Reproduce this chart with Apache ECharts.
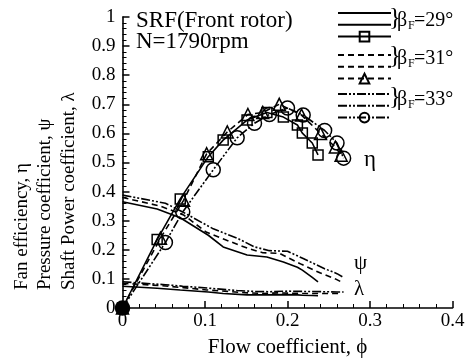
<!DOCTYPE html>
<html><head><meta charset="utf-8">
<script src="https://cdn.jsdelivr.net/npm/echarts@6/dist/echarts.min.js"></script>
<style>html,body{margin:0;padding:0;background:#fff}#c{width:471px;height:359px}</style>
</head><body><div id="c"></div>
<script>
// ---- data ----
const phi29 = [0, 0.042, 0.07, 0.104, 0.122, 0.151, 0.175, 0.195, 0.212, 0.218, 0.23, 0.237];
const eta29 = [0, 0.235, 0.375, 0.52, 0.577, 0.646, 0.672, 0.656, 0.629, 0.601, 0.567, 0.526];
const psi29 = [0.365, 0.34, 0.31, 0.25, 0.21, 0.182, 0.175, 0.158, 0.14, 0.13, 0.105, 0.09];
const lam29 = [0.075, 0.068, 0.062, 0.055, 0.05, 0.045, 0.045, 0.046, 0.045, 0.044, 0.043, 0.042];

const phi31 = [0, 0.046, 0.074, 0.102, 0.127, 0.152, 0.17, 0.19, 0.217, 0.24, 0.258, 0.265];
const eta31 = [0, 0.24, 0.37, 0.53, 0.605, 0.665, 0.672, 0.70, 0.663, 0.60, 0.553, 0.525];
const psi31 = [0.38, 0.35, 0.32, 0.26, 0.232, 0.205, 0.19, 0.188, 0.15, 0.12, 0.1, 0.09];
const lam31 = [0.085, 0.077, 0.07, 0.062, 0.057, 0.052, 0.05, 0.052, 0.05, 0.05, 0.05, 0.05];

const phi33 = [0, 0.052, 0.073, 0.11, 0.139, 0.16, 0.178, 0.2, 0.219, 0.245, 0.26, 0.268];
const eta33 = [0, 0.225, 0.33, 0.475, 0.585, 0.635, 0.665, 0.687, 0.663, 0.61, 0.567, 0.515];
const psi33 = [0.388, 0.36, 0.33, 0.272, 0.24, 0.21, 0.197, 0.195, 0.17, 0.135, 0.118, 0.105];
const lam33 = [0.09, 0.08, 0.075, 0.067, 0.06, 0.057, 0.056, 0.058, 0.057, 0.056, 0.055, 0.055];

const xTicks = ['0', '0.1', '0.2', '0.3', '0.4'];
const yTicks = ['0', '0.1', '0.2', '0.3', '0.4', '0.5', '0.6', '0.7', '0.8', '0.9', '1'];

// ---- build ----
const FONT = '"Liberation Serif", "DejaVu Serif", serif';
const dashes = { solid: 'solid', dashed: [6, 4], dotdash: [9, 2, 2, 2, 2, 2] };
function mk(name, xs, ys, dash, symbol, size, fillOrigin) {
  const data = xs.map((x, i) => (fillOrigin && i === 0)
    ? { value: [x, ys[i]], itemStyle: { color: '#000' } }
    : [x, ys[i]]);
  return {
    name, type: 'line', data,
    symbol: symbol || 'none', symbolSize: size || 0, showSymbol: !!symbol,
    lineStyle: { color: '#000', width: 1.6, type: dashes[dash] },
    itemStyle: symbol
      ? { color: 'rgba(255,255,255,0)', borderColor: '#000', borderWidth: 1.5 }
      : { color: 'rgba(255,255,255,0)', borderColor: 'rgba(0,0,0,0)', borderWidth: 0, opacity: 0 },
    silent: true, animation: false, clip: false
  };
}
const series = [
  mk('psi29', phi29, psi29, 'solid'), mk('lam29', phi29, lam29, 'solid'), mk('eta29', phi29, eta29, 'solid', 'rect', 10),
  mk('psi31', phi31, psi31, 'dashed'), mk('lam31', phi31, lam31, 'dashed'), mk('eta31', phi31, eta31, 'dashed', 'triangle', 12),
  mk('psi33', phi33, psi33, 'dotdash'), mk('lam33', phi33, lam33, 'dotdash'), mk('eta33', phi33, eta33, 'dotdash', 'circle', 14, true)
];
function legend(top, names) {
  return {
    top, left: 332, orient: 'vertical', itemWidth: 53, itemHeight: 12, itemGap: 1,
    selectedMode: false, formatter: () => '', data: names, textStyle: { fontSize: 1 }
  };
}
const fmt = (list, step) => v => { const i = Math.round(v / step); return list[i] !== undefined ? list[i] : ''; };
const axisText = { color: '#000', fontFamily: FONT, fontSize: 19 };
function betaText(cy, deg) {
  return [
    { type: 'text', x: 389, y: cy - 3, style: { text: '}', font: '25px ' + FONT, fill: '#000', align: 'left', verticalAlign: 'middle' } },
    { type: 'text', x: 397, y: cy, style: { text: 'β', font: '20px ' + FONT, fill: '#000', align: 'left', verticalAlign: 'middle' } },
    { type: 'text', x: 408, y: cy + 5, style: { text: 'F', font: '12px ' + FONT, fill: '#000', align: 'left', verticalAlign: 'middle' } },
    { type: 'text', x: 414, y: cy, style: { text: '=' + deg + '°', font: '20px ' + FONT, fill: '#000', align: 'left', verticalAlign: 'middle' } }
  ];
}

const chart = echarts.init(document.getElementById('c'), null, { renderer: 'canvas' });
chart.setOption({
  animation: false,
  grid: { left: 122.5, right: 18.5, top: 17, bottom: 51, containLabel: false, outerBoundsMode: 'none' },
  xAxis: {
    type: 'value', min: 0, max: 0.4, interval: 0.1,
    name: 'Flow coefficient, ϕ', nameLocation: 'middle', nameGap: 29,
    nameTextStyle: { color: '#000', fontFamily: FONT, fontSize: 21 },
    axisLine: { show: true, lineStyle: { color: '#000', width: 1.6 } },
    axisTick: { show: true, inside: true, length: 7, lineStyle: { color: '#000', width: 1.5 } },
    minorTick: { show: true, splitNumber: 5, length: 4, lineStyle: { color: '#000', width: 1 } },
    axisLabel: Object.assign({ formatter: fmt(xTicks, 0.1), margin: 4 }, axisText),
    splitLine: { show: false }
  },
  yAxis: {
    type: 'value', min: 0, max: 1, interval: 0.1,
    axisLine: { show: true, lineStyle: { color: '#000', width: 1.6 } },
    axisTick: { show: true, inside: true, length: 7, lineStyle: { color: '#000', width: 1.5 } },
    minorTick: { show: true, splitNumber: 5, length: 4, lineStyle: { color: '#000', width: 1 } },
    axisLabel: Object.assign({ formatter: fmt(yTicks, 0.1), margin: 7 }, axisText),
    splitLine: { show: false }
  },
  legend: [
    legend(2, ['psi29', 'lam29', 'eta29']),
    legend(44, ['psi31', 'lam31', 'eta31']),
    legend(83, ['psi33', 'lam33', 'eta33'])
  ],
  graphic: [
    { type: 'text', x: 10, y: 290, rotation: Math.PI / 2,
      style: { text: 'Fan efficiency, η\nPressure coefficient, ψ\nShaft Power coefficient, λ', font: '19px ' + FONT, lineHeight: 23.5, fill: '#000', align: 'left', verticalAlign: 'top' } },
    { type: 'text', x: 136, y: 21, style: { text: 'SRF(Front rotor)', font: '23px ' + FONT, fill: '#000', align: 'left', verticalAlign: 'middle' } },
    { type: 'text', x: 136, y: 42, style: { text: 'N=1790rpm', font: '23px ' + FONT, fill: '#000', align: 'left', verticalAlign: 'middle' } },
    ...betaText(21, 29), ...betaText(59, 31), ...betaText(100, 33),
    { type: 'text', x: 364, y: 160, style: { text: 'η', font: '23px ' + FONT, fill: '#000', align: 'left', verticalAlign: 'middle' } },
    { type: 'text', x: 354, y: 263, style: { text: 'ψ', font: '21px ' + FONT, fill: '#000', align: 'left', verticalAlign: 'middle' } },
    { type: 'text', x: 354, y: 289, style: { text: 'λ', font: '21px ' + FONT, fill: '#000', align: 'left', verticalAlign: 'middle' } }
  ],
  series
});
</script></body></html>
